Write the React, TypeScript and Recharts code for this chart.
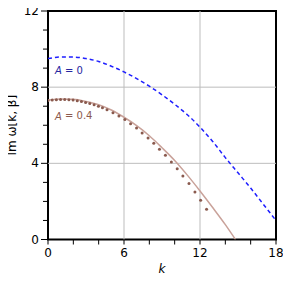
import React from 'react';
import {
  ComposedChart,
  Line,
  Scatter,
  XAxis,
  YAxis,
  ReferenceLine,
  ReferenceArea,
  ReferenceDot,
} from 'recharts';

// ---- data ----
const kTicks = [0, 2, 4, 6, 8, 10, 12, 14, 16, 18];
const kLabels = [0, 6, 12, 18];
const yTicks = [0, 1, 2, 3, 4, 5, 6, 7, 8, 9, 10, 11, 12];
const yLabels = [0, 4, 8, 12];
const gridK = [6, 12];
const gridY = [4, 8];

// A = 0 (dashed blue)
const blueK = [0, 1, 2, 3, 4, 5, 6, 7, 8, 9, 10, 11, 12, 13, 14, 15, 16, 17, 18];
const blueV = [9.5, 9.58, 9.58, 9.5, 9.35, 9.1, 8.8, 8.45, 8.05, 7.6, 7.1, 6.55, 5.9, 5.15, 4.3, 3.5, 2.7, 1.85, 1.0];

// A = 0.4 (solid light brown)
const brownK = [0, 1, 2, 3, 4, 5, 6, 7, 8, 9, 10, 11, 12, 13, 14, 14.8];
const brownV = [7.32, 7.38, 7.36, 7.25, 7.08, 6.8, 6.42, 5.98, 5.45, 4.82, 4.15, 3.38, 2.55, 1.68, 0.78, 0];

// A = 0.4 (dots)
const dotK = [0, 0.33, 0.66, 0.99, 1.32, 1.65, 1.98, 2.31, 2.64, 2.97, 3.3, 3.64, 3.98, 4.3, 4.66, 5.13, 5.6, 6.07, 6.52, 6.99, 7.43, 7.9, 8.35, 8.8, 9.27, 9.74, 10.2, 10.65, 11.13, 11.6, 12.05, 12.52];
const dotV = [7.3, 7.32, 7.34, 7.35, 7.35, 7.34, 7.32, 7.29, 7.25, 7.2, 7.14, 7.08, 7.0, 6.92, 6.81, 6.66, 6.49, 6.3, 6.08, 5.85, 5.59, 5.33, 5.05, 4.74, 4.42, 4.07, 3.72, 3.34, 2.94, 2.5, 2.06, 1.59];

const blueData = blueK.map((k, i) => ({ k, v: blueV[i] }));
const brownData = brownK.map((k, i) => ({ k, v: brownV[i] }));
const dotData = dotK.map((k, i) => ({ k, v: dotV[i] }));

const FONT = '"DejaVu Sans", sans-serif';

const XTick = (props: any) => {
  const { x, y, payload } = props;
  const major = kLabels.includes(payload.value);
  return (
    <g>
      <line x1={x} x2={x} y1={y} y2={y + 5} stroke="#000" strokeWidth={1} />
      {major && (
        <text x={x} y={y + 13} textAnchor="middle" dominantBaseline="central" fontSize={12} fontFamily={FONT} fill="#000">
          {payload.value}
        </text>
      )}
    </g>
  );
};

const YTick = (props: any) => {
  const { x, y, payload } = props;
  const major = yLabels.includes(payload.value);
  const len = major ? 7 : 5;
  return (
    <g>
      <line x1={x - len} x2={x} y1={y} y2={y} stroke="#000" strokeWidth={1} />
      {major && (
        <text x={x - 9} y={y} textAnchor="end" dominantBaseline="central" fontSize={12} fontFamily={FONT} fill="#000">
          {payload.value}
        </text>
      )}
    </g>
  );
};

const YTitle = (props: any) => {
  const vb = props.viewBox || {};
  const cx = vb.x + 12;
  const cy = vb.y + vb.height / 2;
  return (
    <text x={cx} y={cy} transform={`rotate(-90 ${cx} ${cy})`} textAnchor="middle" dominantBaseline="central" fontSize={12} fontFamily={FONT} fill="#000">
      Im ω[k, β]
    </text>
  );
};

const XTitle = (props: any) => {
  const vb = props.viewBox || {};
  const cx = vb.x + vb.width / 2;
  const cy = vb.y + 29;
  return (
    <text x={cx} y={cy} textAnchor="middle" dominantBaseline="central" fontSize={12} fontStyle="italic" fontFamily={FONT} fill="#000">
      k
    </text>
  );
};

const makeNote = (rest: string, color: string) => (props: any) => {
  const vb = props.viewBox || {};
  return (
    <text x={vb.x} y={vb.y} dominantBaseline="central" fontSize={10} fontFamily={FONT} fill={color}>
      <tspan fontStyle="italic">A</tspan>
      {rest}
    </text>
  );
};

const DotShape = (props: any) => {
  const { cx, cy } = props;
  return <circle cx={cx} cy={cy} r={1.5} fill="#8a5a4e" />;
};

export default function App() {
  return (
    <div style={{ marginTop: -8, marginLeft: -8, width: 291, height: 282 }}>
      <ComposedChart
        width={291}
        height={282}
        margin={{ top: 11, right: 15, bottom: 0, left: 0 }}
      >
        <XAxis
          dataKey="k"
          type="number"
          domain={[0, 18]}
          ticks={kTicks}
          interval={0}
          allowDataOverflow
          height={42.5}
          tickSize={0}
          tickMargin={0}
          tickLine={false}
          axisLine={false}
          tick={<XTick />}
          label={XTitle}
        />
        <YAxis
          type="number"
          domain={[0, 12]}
          ticks={yTicks}
          interval={0}
          allowDataOverflow
          width={48}
          tickSize={0}
          tickMargin={0}
          tickLine={false}
          axisLine={false}
          tick={<YTick />}
          label={YTitle}
        />
        {gridK.map((g) => (
          <ReferenceLine key={'gx' + g} x={g} stroke="#bdbdbd" strokeWidth={1} />
        ))}
        {gridY.map((g) => (
          <ReferenceLine key={'gy' + g} y={g} stroke="#bdbdbd" strokeWidth={1} />
        ))}
        <Line
          data={brownData}
          dataKey="v"
          type="monotone"
          stroke="#c9a29a"
          strokeWidth={1.5}
          dot={false}
          activeDot={false}
          isAnimationActive={false}
        />
        <Scatter data={dotData} dataKey="v" shape={<DotShape />} isAnimationActive={false} />
        <Line
          data={blueData}
          dataKey="v"
          type="monotone"
          stroke="#1f1fff"
          strokeWidth={1.5}
          strokeDasharray="4 3"
          dot={false}
          activeDot={false}
          isAnimationActive={false}
        />
        <ReferenceDot x={0.55} y={8.9} r={0} fill="none" stroke="none" label={makeNote(' = 0', '#2626a0')} />
        <ReferenceDot x={0.55} y={6.49} r={0} fill="none" stroke="none" label={makeNote(' = 0.4', '#8c5a4e')} />
        <ReferenceArea x1={0} x2={18} y1={0} y2={12} fill="none" stroke="#000" strokeWidth={2} ifOverflow="visible" />
      </ComposedChart>
    </div>
  );
}
